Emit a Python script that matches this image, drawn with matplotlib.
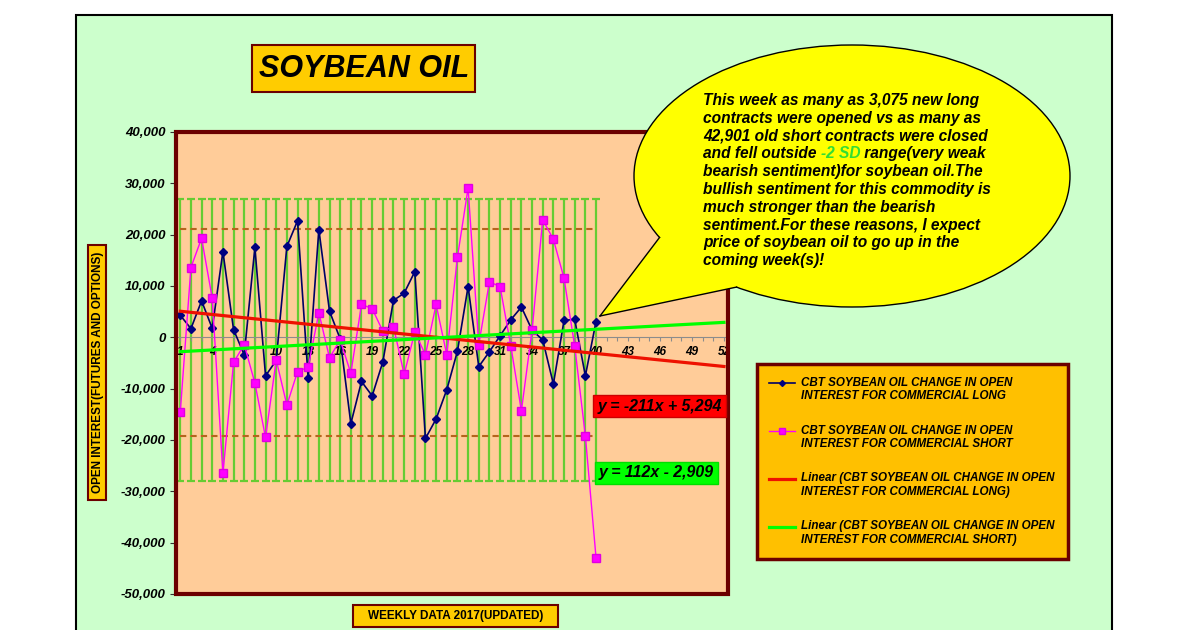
import numpy as np
import matplotlib
matplotlib.use("Agg")
import matplotlib.pyplot as plt
from matplotlib.patches import Rectangle, Ellipse, Polygon
from matplotlib.lines import Line2D

plt.rcParams['font.family'] = ['Liberation Sans', 'DejaVu Sans']

# weekly change in open interest, 2017
weeks = list(range(1, 41))
long_chg = [4300, 1700, 7100, 1750, 16700, 1500, -3400, 17500, -7500, -4500,
            17700, 22700, -8000, 21000, 5100, -300, -16800, -8600, -11400, -4800,
            7200, 8600, 12800, -19700, -15900, -10200, -2700, 9900, -5700, -2800,
            300, 3400, 5900, 1400, -500, -9100, 3300, 3500, -7500, 3075]
short_chg = [-14600, 13600, 19300, 7600, -26500, -4900, -1400, -8900, -19500, -4400,
             -13200, -6700, -5800, 4800, -4000, -500, -7000, 6400, 5600, 1200,
             2100, -7200, 1000, -3400, 6400, -3400, 15600, 29100, -1400, 10800,
             9900, -1600, -14300, 1400, 22900, 19100, 11500, -1700, -19200, -42901]

# trendline coefficients as shown on the chart (slope, intercept)
trend_long = (-211, 5294)
trend_short = (112, -2909)
trend_weeks = [1, 52]

# +/- SD reference levels
band_hi, band_lo = 26900, -28000
ref_hi, ref_lo = 21200, -19200

yticks = list(range(-50000, 40001, 10000))
xticks = list(range(1, 53))

long_label = "CBT SOYBEAN OIL CHANGE IN OPEN\nINTEREST FOR COMMERCIAL LONG"
short_label = "CBT SOYBEAN OIL CHANGE IN OPEN\nINTEREST FOR COMMERCIAL SHORT"
lin_long_label = "Linear (CBT SOYBEAN OIL CHANGE IN OPEN\nINTEREST FOR COMMERCIAL LONG)"
lin_short_label = "Linear (CBT SOYBEAN OIL CHANGE IN OPEN\nINTEREST FOR COMMERCIAL SHORT)"

callout = ["This week as many as 3,075 new long",
           "contracts were opened vs as many as",
           "42,901 old short contracts were closed",
           [("and fell outside ", "black"), ("-2 SD", "#33DD33"), (" range(very weak", "black")],
           "bearish sentiment)for soybean oil.The",
           "bullish sentiment for this commodity is",
           "much stronger than the bearish",
           "sentiment.For these reasons, I expect",
           "price of soybean oil to go up in the",
           "coming week(s)!"]

W, H = 1200, 630
def fx(x):
    return x / W
def fy(y):
    return 1 - y / H

BI = dict(fontweight='bold', fontstyle='italic')
MAROON = '#6B0000'

fig = plt.figure(figsize=(12, 6.3), dpi=100)
fig.patch.set_facecolor('white')

# chart area
fig.add_artist(Rectangle((fx(76), fy(660)), fx(1112) - fx(76), fy(15) - fy(660),
                         facecolor='#CCFFCC', edgecolor='black', lw=1.5, zorder=-5))

ax = fig.add_axes([fx(176), fy(594), (728 - 176) / W, (594 - 132) / H])
ax.set_facecolor('#FFCC99')
ax.set_xlim(0.6, 52.38)
ax.set_ylim(-50000, 40000)

for s in ['left', 'right', 'top']:
    ax.spines[s].set_visible(False)
ax.spines['bottom'].set_position(('data', 0))
ax.spines['bottom'].set_color('#8C8C8C')
ax.spines['bottom'].set_linewidth(0.8)
ax.add_patch(Rectangle((0, 0), 1, 1, transform=ax.transAxes, fill=False,
                       edgecolor=MAROON, lw=3, clip_on=False, zorder=10))

ax.set_yticks(yticks, labels=[f"{v:,}" for v in yticks])
ax.set_xticks(xticks, labels=[str(w) if (w - 1) % 3 == 0 else '' for w in xticks])
ax.tick_params(axis='y', direction='out', length=4, color='#333333', pad=3.5, labelsize=9.5)
ax.tick_params(axis='x', direction='out', length=3, color='#8C8C8C', pad=3, labelsize=8.5)
for lab in ax.get_xticklabels() + ax.get_yticklabels():
    lab.set_fontweight('bold')
    lab.set_fontstyle('italic')

# SD band (error bars) and dashed reference lines
mid = (band_hi + band_lo) / 2
half = (band_hi - band_lo) / 2
ax.errorbar(weeks, [mid] * len(weeks), yerr=half, fmt='none', ecolor='#66CC33',
            elinewidth=1.6, capsize=3, capthick=1.6, zorder=1)
ax.hlines([ref_hi, ref_lo], 1, 40, colors='#B5651D', linestyles=(0, (3, 2)), lw=1.5, zorder=2)

ax.plot(weeks, long_chg, color='#000066', lw=1.2, marker='D', ms=4.5,
        mfc='#000080', mec='#000080', zorder=3)
ax.plot(weeks, short_chg, color='#FF00FF', lw=1.0, marker='s', ms=6,
        mfc='#FF00FF', mec='#E000E0', zorder=4)

tw = np.array(trend_weeks)
ax.plot(tw, trend_long[0] * tw + trend_long[1], color='#EE1100', lw=2.3, zorder=5)
ax.plot(tw, trend_short[0] * tw + trend_short[1], color='#00FF00', lw=2.3, zorder=5)

# title box
fig.add_artist(Rectangle((fx(252), fy(92)), fx(475) - fx(252), fy(45) - fy(92),
                         facecolor='#FFCC00', edgecolor=MAROON, lw=1.5))
fig.text(fx(364), fy(69), "SOYBEAN OIL", ha='center', va='center', fontsize=22, **BI)

# axis title boxes
fig.add_artist(Rectangle((fx(88), fy(500)), fx(106) - fx(88), fy(245) - fy(500),
                         facecolor='#FFCC00', edgecolor=MAROON, lw=1.5))
fig.text(fx(97.5), fy(372), "OPEN INTEREST(FUTURES AND OPTIONS)", rotation=90,
         ha='center', va='center', fontsize=8.5, fontweight='bold')
fig.add_artist(Rectangle((fx(353), fy(627)), fx(558) - fx(353), fy(605) - fy(627),
                         facecolor='#FFCC00', edgecolor=MAROON, lw=1.5))
fig.text(fx(455.5), fy(616), "WEEKLY DATA 2017(UPDATED)", ha='center', va='center',
         fontsize=8.5, fontweight='bold')

# trendline equations
def eq(slope, icpt):
    sign = '+' if icpt >= 0 else '-'
    return f"y = {slope}x {sign} {abs(icpt):,}"

fig.add_artist(Rectangle((fx(593), fy(417)), fx(726) - fx(593), fy(395) - fy(417),
                         facecolor='#FF0000', edgecolor='#CC0000', lw=1, zorder=3))
fig.text(fx(659.5), fy(406), eq(*trend_long), ha='center', va='center', fontsize=11.4, zorder=4, **BI)
fig.add_artist(Rectangle((fx(595), fy(484)), fx(718) - fx(595), fy(462) - fy(484),
                         facecolor='#00FF00', edgecolor='#00DD00', lw=1, zorder=3))
fig.text(fx(656.5), fy(473), eq(*trend_short), ha='center', va='center', fontsize=11.4, zorder=4, **BI)

# legend
fig.add_artist(Rectangle((fx(757), fy(559)), fx(1068) - fx(757), fy(364) - fy(559),
                         facecolor='#FFC000', edgecolor=MAROON, lw=2.5))
leg_items = [(long_label, dict(color='#000066', lw=1.2, marker='D', ms=3, mfc='#000080', mec='#000080')),
             (short_label, dict(color='#FF00FF', lw=1.0, marker='s', ms=4.5, mfc='#FF00FF', mec='#E000E0')),
             (lin_long_label, dict(color='#EE1100', lw=2.3)),
             (lin_short_label, dict(color='#00FF00', lw=2.3))]
for i, (lab, st) in enumerate(leg_items):
    yc = 383 + i * 48
    fig.add_artist(Line2D([fx(769), fx(795)], [fy(yc), fy(yc)],
                          **{k: v for k, v in st.items() if not k.startswith('m')}))
    if 'marker' in st:
        fig.add_artist(Line2D([fx(782)], [fy(yc)], ls='none', **{k: v for k, v in st.items() if k != 'lw'}))
    fig.text(fx(801), fy(yc - 6.5), lab, ha='left', va='top', fontsize=8.4, linespacing=1.12, **BI)

# callout bubble
cx, cy, hw, hh = 852, 176, 218, 131
fig.add_artist(Ellipse((fx(cx), fy(cy)), 2 * hw / W, 2 * hh / H, facecolor='#FFFF00',
                       edgecolor='black', lw=1, zorder=6))
tip = (600, 316)
t1, t2 = np.deg2rad(152), np.deg2rad(122)
b1 = (cx + hw * np.cos(t1), cy + hh * np.sin(t1))
b2 = (cx + hw * np.cos(t2), cy + hh * np.sin(t2))
inner = (cx - 0.6 * hw, cy + 0.45 * hh)
fig.add_artist(Polygon([(fx(tip[0]), fy(tip[1])), (fx(b1[0]), fy(b1[1])), (fx(inner[0]), fy(inner[1])),
                        (fx(b2[0]), fy(b2[1]))], closed=True, facecolor='#FFFF00', edgecolor='none', zorder=7))
for b in (b1, b2):
    fig.add_artist(Line2D([fx(tip[0]), fx(b[0])], [fy(tip[1]), fy(b[1])], color='black', lw=1, zorder=8))

renderer = fig.canvas.get_renderer()
for i, line in enumerate(callout):
    yb = 105 + i * 17.8
    if isinstance(line, str):
        line = [(line, 'black')]
    x0 = 703
    for part, col in line:
        t = fig.text(fx(x0), fy(yb), part, color=col, ha='left', va='baseline',
                     fontsize=11.2, zorder=9, **BI)
        x0 = t.get_window_extent(renderer).x1

fig.savefig('out.png', dpi=100)
